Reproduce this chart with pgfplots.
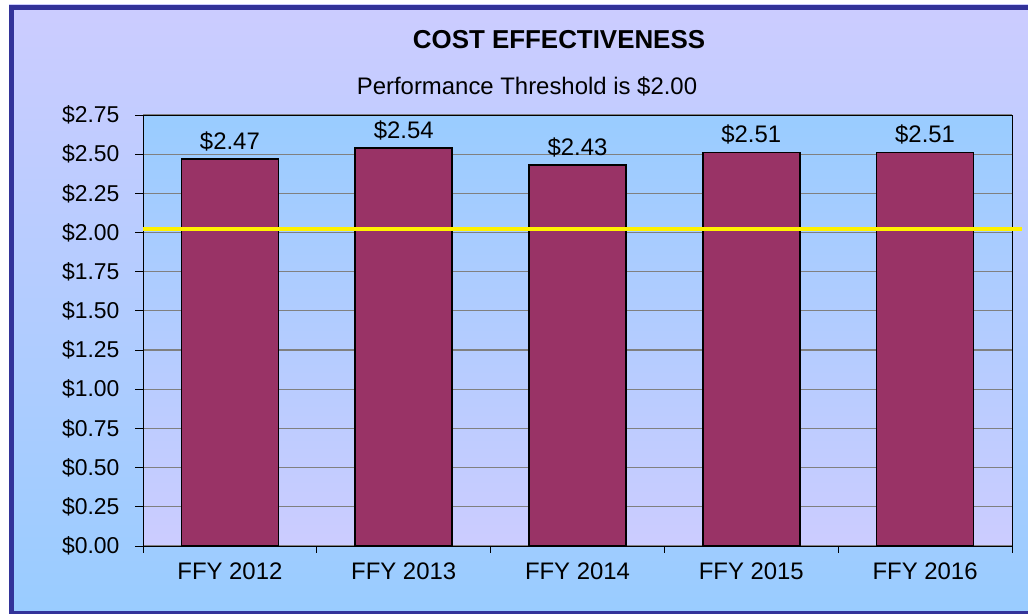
\documentclass[border=0pt]{standalone}
\usepackage{pgfplots}
\pgfplotsset{compat=1.18}
\usepackage{fontspec}
\setmainfont{Liberation Sans}
\definecolor{frame}{HTML}{333399}
\definecolor{lav}{HTML}{CCCCFF}
\definecolor{lblue}{HTML}{99CCFF}
\definecolor{barc}{HTML}{993366}
\begin{document}
\begin{tikzpicture}[x=1bp,y=1bp]
\useasboundingbox (0,0) rectangle (1028,614);
\shade[top color=lav,bottom color=lblue] (9,0) rectangle (1040,609);
\draw[frame,line width=5bp] (11.5,0.5) rectangle (1045,606.5);
\node[font=\fontsize{26}{30}\selectfont\bfseries] at (559,574) {COST EFFECTIVENESS};
\node[font=\fontsize{24}{28}\selectfont] at (527,528) {Performance Threshold is \$2.00};
\begin{axis}[
  at={(143bp,68bp)}, anchor=south west,
  scale only axis, width=869bp, height=431bp,
  xmin=-0.5, xmax=4.5, ymin=0, ymax=2.75,
  axis background/.style={top color=lblue,bottom color=lav},
  axis line style={black,line width=0.8bp},
  xtick={0,1,2,3,4},
  xticklabels={FFY 2012,FFY 2013,FFY 2014,FFY 2015,FFY 2016},
  major x tick style={draw=none},
  minor xtick={-0.5,0.5,1.5,2.5,3.5,4.5},
  minor x tick style={black,line width=0.8bp},
  minor tick length=7bp,
  ytick={0,0.25,...,2.76},
  yticklabels={\$0.00,\$0.25,\$0.50,\$0.75,\$1.00,\$1.25,\$1.50,\$1.75,\$2.00,\$2.25,\$2.50,\$2.75},
  major y tick style={black,line width=0.8bp},
  major tick length=8bp,
  tick align=outside,
  tick pos=left,
  ymajorgrids,
  major grid style={color=gray,line width=1.2bp},
  yticklabel style={font=\fontsize{23}{27}\selectfont, xshift=-12bp},
  xticklabel style={font=\fontsize{24}{28}\selectfont, yshift=-5bp},
  clip=false,
  axis on top=false,
]
\addplot[ybar, bar width=97bp, fill=barc, draw=black, line width=1.5bp,
  nodes near coords, point meta=explicit symbolic,
  every node near coord/.append style={font=\fontsize{24}{28}\selectfont, yshift=4bp}]
  coordinates {(0,2.47)[\$2.47] (1,2.54)[\$2.54] (2,2.43)[\$2.43] (3,2.51)[\$2.51] (4,2.51)[\$2.51]};
\addplot[color=yellow, line width=3.5bp] coordinates {(-0.5,2.023) (4.557,2.023)};
\end{axis}
\end{tikzpicture}
\end{document}
